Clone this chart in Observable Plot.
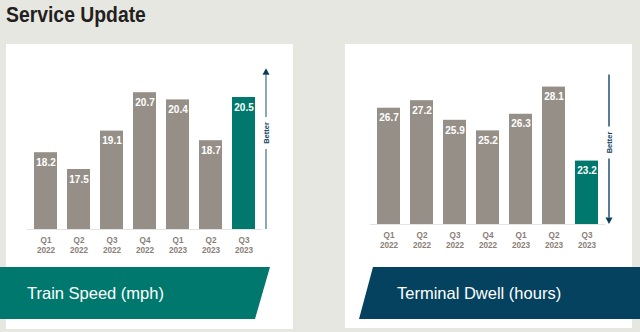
<!DOCTYPE html>
<html>
<head>
<meta charset="utf-8">
<script src="https://cdn.jsdelivr.net/npm/d3@7"></script>
<script src="https://cdn.jsdelivr.net/npm/@observablehq/plot@0.6"></script>
<style>
  html, body { margin: 0; padding: 0; }
  body { width: 640px; height: 332px; overflow: hidden; background: #E7E7E2; font-family: "Liberation Sans", Arial, sans-serif; }
  #page { position: relative; width: 640px; height: 332px; }
  .title { position: absolute; left: 6px; top: 2px; font-size: 22px; font-weight: bold; color: #231f20; transform: scaleX(0.88); transform-origin: left top; white-space: nowrap; }
  .panel { position: absolute; background: #fff; }
  .chart { position: absolute; }
  .banner { position: absolute; color: #fff; font-size: 16.5px; white-space: nowrap; }
  .banner span { position: absolute; top: 50%; transform: translateY(-50%); }
</style>
</head>
<body>
<div id="page">
  <div class="title">Service Update</div>
  <div class="panel" style="left:6px;top:44px;width:287px;height:285px;"></div>
  <div class="panel" style="left:345px;top:44px;width:287px;height:284px;"></div>
  <div id="left" class="chart" style="left:0px;top:44px;"></div>
  <div id="right" class="chart" style="left:345px;top:44px;"></div>
  <div class="banner" style="left:0;top:267px;width:270px;height:52px;background:#00786D;clip-path:polygon(0 0,270px 0,255px 52px,0 52px);"><span style="left:27px;">Train Speed (mph)</span></div>
  <div class="banner" style="left:359px;top:267px;width:281px;height:52px;background:#04425F;clip-path:polygon(14px 0,281px 0,281px 52px,0 52px);"><span style="left:38px;">Terminal Dwell (hours)</span></div>
</div>
<script>
// ---- data ----
const quarters = ["Q1 2022", "Q2 2022", "Q3 2022", "Q4 2022", "Q1 2023", "Q2 2023", "Q3 2023"];
const trainSpeed = [18.2, 17.5, 19.1, 20.7, 20.4, 18.7, 20.5];
const terminalDwell = [26.7, 27.2, 25.9, 25.2, 26.3, 28.1, 23.2];

const GRAY = "#968F88", TEAL = "#00786D", NAVY = "#0B3D5A";

function makeChart(values, opts) {
  const data = quarters.map((q, i) => ({q, v: values[i]}));
  const base = opts.domain[0];
  const plot = Plot.plot({
    width: opts.width, height: opts.height,
    marginLeft: opts.ml, marginRight: opts.mr, marginTop: opts.mt, marginBottom: opts.mb,
    style: {fontFamily: "'Liberation Sans', Arial, sans-serif", background: "transparent", overflow: "visible"},
    x: {domain: quarters, padding: 0.31, label: null},
    y: {domain: opts.domain, axis: null},
    marks: [
      Plot.barY(data, {x: "q", y1: () => base, y2: "v", fill: (d, i) => i === data.length - 1 ? TEAL : GRAY}),
      Plot.ruleY([base], {stroke: "#e3e3e3", strokeWidth: 1.2, insetLeft: 5, insetRight: 5}),
      Plot.text(data, {x: "q", y: "v", text: d => d.v.toFixed(1), dy: 10, fill: "#fff", fontWeight: "bold", fontSize: 10}),
      Plot.axisX({tickSize: 0, tickPadding: 6, fontSize: 8.2, fontWeight: "bold", fill: "#8A8078", lineHeight: 1.22,
                  tickFormat: d => d.replace(" ", "\n"), label: null})
    ]
  });
  // "Better" arrow annotation, positioned through the y scale
  const y = plot.scale("y");
  const svg = d3.select(plot);
  const x = opts.width - opts.mr - 1;
  const y1 = y.apply(opts.arrow.from), y2 = y.apply(opts.arrow.to), yl = y.apply(opts.arrow.label);
  const up = y2 < y1;
  const dir = up ? -1 : 1;
  const g = svg.append("g");
  const tipBase = y2 - dir * 6.5;
  // line segments around label
  const gap = 16;
  const segs = up ? [[y1, yl + gap], [yl - gap, tipBase]] : [[y1, yl - gap], [yl + gap, tipBase]];
  segs.forEach(([a, b]) => g.append("line").attr("x1", x).attr("x2", x).attr("y1", a).attr("y2", b)
    .attr("stroke", opts.lineColor).attr("stroke-width", 1.6));
  g.append("path").attr("d", `M${x},${y2} L${x - 3.5},${tipBase} L${x + 3.5},${tipBase} Z`).attr("fill", NAVY);
  g.append("text").attr("transform", `translate(${x + 2.5},${yl}) rotate(-90)`).attr("text-anchor", "middle")
    .attr("font-size", 7.5).attr("font-weight", "bold").attr("fill", NAVY).text("Better");
  return plot;
}

document.getElementById("left").append(makeChart(trainSpeed, {
  width: 293, height: 220, ml: 22, mr: 26, mt: 17, mb: 35, domain: [15, 22],
  arrow: {from: 15, to: 21.7, label: 19}, lineColor: "#6F93A6"
}));
document.getElementById("right").append(makeChart(terminalDwell, {
  width: 287, height: 215, ml: 20, mr: 22, mt: 29, mb: 35, domain: [19, 29],
  arrow: {from: 28.9, to: 19, label: 24.4}, lineColor: "#2B5E7C"
}));
</script>
</body>
</html>
